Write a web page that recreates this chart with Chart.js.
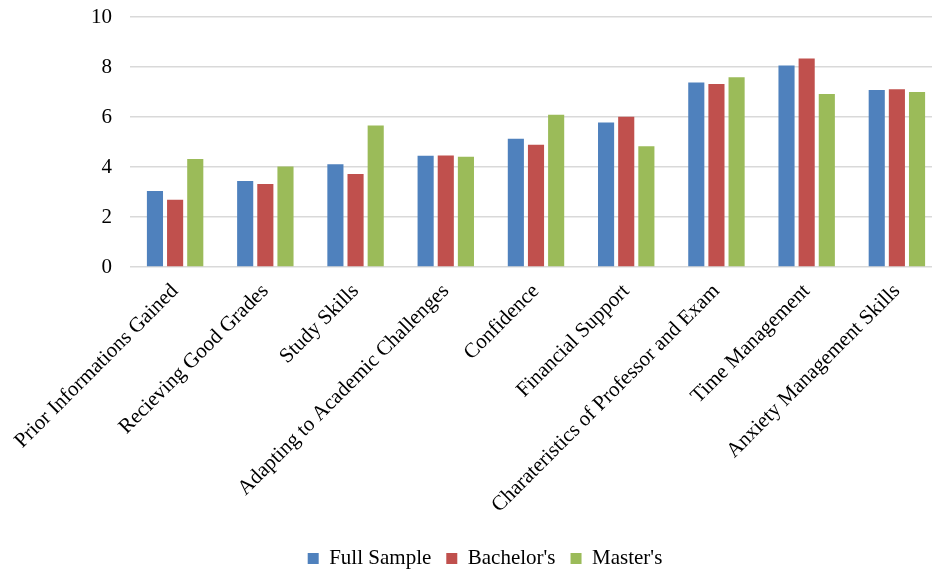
<!DOCTYPE html>
<html>
<head>
<meta charset="utf-8">
<script src="https://cdn.jsdelivr.net/npm/chart.js@4.4.0/dist/chart.umd.min.js"></script>
<style>
  html, body { margin: 0; padding: 0; background: #fff; overflow: hidden; }
  #wrap { width: 970px; height: 570px; }
</style>
</head>
<body>
<div id="wrap"><canvas id="chart" width="970" height="570"></canvas></div>
<script>
// DATA //

const categories = [
    'Prior Informations Gained',
    'Recieving Good Grades',
    'Study Skills',
    'Adapting to Academic Challenges',
    'Confidence',
    'Financial Support',
    'Charateristics of Professor and Exam',
    'Time Management',
    'Anxiety Management Skills'
];
const fullSample = [3.04, 3.44, 4.11, 4.45, 5.13, 5.78, 7.38, 8.06, 7.08];
const bachelors  = [2.69, 3.32, 3.72, 4.46, 4.89, 6.01, 7.32, 8.34, 7.11];
const masters    = [4.32, 4.02, 5.66, 4.41, 6.09, 4.83, 7.59, 6.92, 7.00];
const yTicks = [0, 2, 4, 6, 8, 10];

// CHART //

const serif = '"Liberation Serif", "Times New Roman", serif';
Chart.defaults.font.family = serif;
Chart.defaults.font.size = 21;
Chart.defaults.color = '#000';

const chartData = {
    labels: categories,
    datasets: [
        { label: 'Full Sample', data: fullSample, backgroundColor: '#4F81BD' },
        { label: "Bachelor's", data: bachelors, backgroundColor: '#C0504D' },
        { label: "Master's", data: masters, backgroundColor: '#9BBB59' }
    ]
};

const chartOptions = {
    responsive: false,
    animation: false,
    // plot runs past the window's right edge, like the reference
    layout: { padding: { top: 17, right: 28, left: 28, bottom: -9 } },
    datasets: { bar: { categoryPercentage: 0.67, barPercentage: 0.8 } },
    scales: {
        x: {
            grid: { display: false },
            border: { display: false },
            ticks: {
                autoSkip: false,
                minRotation: 45,
                maxRotation: 45,
                font: { family: serif, size: 21 },
                padding: 4
            },
            afterFit: (scale) => {
                scale.height = 266;
                scale.paddingLeft = 0;
                scale.paddingRight = 0;
            }
        },
        y: {
            min: 0,
            max: 10,
            afterBuildTicks: (scale) => {
                scale.ticks = yTicks.map(v => ({ value: v }));
            },
            grid: { color: '#d9d9d9', lineWidth: 1.5, drawTicks: false },
            border: { display: false },
            ticks: { font: { family: serif, size: 21 }, padding: 18 },
            afterFit: (scale) => {
                scale.width = 102;
                scale.paddingTop = 0;
                scale.paddingBottom = 0;
            }
        }
    },
    plugins: {
        legend: {
            position: 'bottom',
            labels: {
                boxWidth: 11,
                boxHeight: 11,
                padding: 15,
                font: { family: serif, size: 21 }
            }
        },
        tooltip: { enabled: false }
    }
};

const chart = new Chart(document.getElementById('chart'), {
    type: 'bar',
    data: chartData,
    options: chartOptions
});
</script>
</body>
</html>
